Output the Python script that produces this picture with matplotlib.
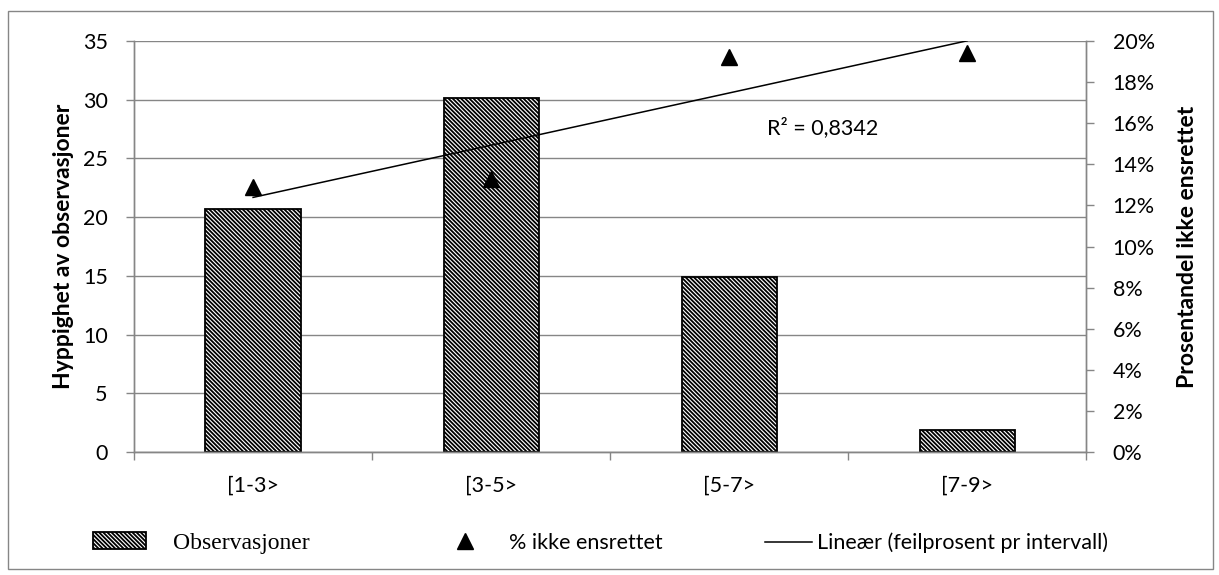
"""
Observasjoner per intervall med andel ikke ensrettet og lineær trend
"""

import numpy as np
import matplotlib
matplotlib.use("Agg")
import matplotlib.pyplot as plt
from matplotlib.patches import Rectangle, Patch
from matplotlib.lines import Line2D
from matplotlib.ticker import FuncFormatter, MultipleLocator

# Data
categories = ["[1-3>", "[3-5>", "[5-7>", "[7-9>"]
observasjoner = [20.7, 30.15, 14.9, 1.85]
pct_ikke_ensrettet = [12.9, 13.3, 19.2, 19.4]   # prosent
r2_text = "R\u00b2 = 0,8342"

left_label = "Hyppighet av observasjoner"
right_label = "Prosentandel ikke ensrettet"
legend_labels = ["Observasjoner", "% ikke ensrettet", "Lineær (feilprosent pr intervall)"]

# Style
FONT = "Lato"
TICK_FS = 15.5
LABEL_FS = 16.5
GRID_COLOR = "#868686"
plt.rcParams["font.family"] = [FONT, "DejaVu Sans"]
plt.rcParams["hatch.linewidth"] = 1.3
HATCH = "\\" * 8

fig = plt.figure(figsize=(12.19, 5.75), dpi=100)
ax = fig.add_axes([0.110, 0.2139, 0.781, 0.7148])
ax2 = ax.twinx()

x = np.arange(len(categories))

# Bars
ax.bar(x, observasjoner, width=0.4, facecolor="white", edgecolor="black",
       linewidth=1.3, hatch=HATCH, zorder=2)
ax.set_xlim(-0.5, len(categories) - 0.5)
ax.set_ylim(0, 35)
ax.yaxis.set_major_locator(MultipleLocator(5))
ax.set_axisbelow(True)
ax.grid(axis="y", color=GRID_COLOR, linewidth=1.0)
ax.set_xticks(x)
ax.set_xticklabels(categories)
ax.set_xticks(np.arange(len(categories) + 1) - 0.5, minor=True)
ax.tick_params(axis="x", which="major", length=0, pad=17, labelsize=TICK_FS)
ax.tick_params(axis="x", which="minor", length=6, width=1.0, color=GRID_COLOR)
ax.tick_params(axis="y", length=6, width=1.0, color=GRID_COLOR, pad=13,
               labelsize=TICK_FS)

# Percent series + linear trend
ax2.plot(x, pct_ikke_ensrettet, linestyle="none", marker="^", markersize=11,
         color="black", zorder=3)
coef = np.polyfit(x, pct_ikke_ensrettet, 1)
ax2.plot(x, np.polyval(coef, x), color="black", linewidth=1.1, zorder=3)
ax2.set_ylim(0, 20)
ax2.yaxis.set_major_locator(MultipleLocator(2))
ax2.yaxis.set_major_formatter(FuncFormatter(lambda v, p: f"{v:.0f}%"))
ax2.tick_params(axis="y", length=6, width=1.0, color=GRID_COLOR, pad=13,
                labelsize=TICK_FS)
ax2.text(0.723, 0.788, r2_text, transform=ax2.transAxes, ha="center",
         va="center", fontsize=TICK_FS)

for a in (ax, ax2):
    a.spines["top"].set_visible(False)
    for s in ("left", "right", "bottom"):
        a.spines[s].set_color(GRID_COLOR)
        a.spines[s].set_linewidth(1.0)

ax.set_ylabel(left_label, fontsize=LABEL_FS, fontweight="bold", va="center")
ax.yaxis.set_label_coords(-0.0746, 0.5)
ax2.set_ylabel(right_label, fontsize=LABEL_FS, fontweight="bold", va="center",
               rotation=90)
ax2.yaxis.set_label_coords(1.107, 0.5)

# Legend, three separate entries placed along the bottom
leg_y = 1 - 543 / 575
W = 1219
leg_kw = dict(frameon=False, loc="center left", borderpad=0, borderaxespad=0)
l1 = fig.legend([Patch(facecolor="white", edgecolor="black", hatch=HATCH, linewidth=1.3)],
                [legend_labels[0]], bbox_to_anchor=(93 / W, leg_y),
                prop={"family": "Liberation Serif", "size": 17},
                handlelength=2.25, handleheight=0.68, handletextpad=1.14, **leg_kw)
l2 = fig.legend([Line2D([], [], linestyle="none", marker="^", markersize=11, color="black")],
                [legend_labels[1]], bbox_to_anchor=(443 / W, leg_y),
                prop={"size": TICK_FS}, handlelength=2.0, handletextpad=1.07, **leg_kw)
l3 = fig.legend([Line2D([], [], color="black", linewidth=1.1)],
                [legend_labels[2]], bbox_to_anchor=(765 / W, leg_y),
                prop={"size": TICK_FS}, handlelength=2.19, handletextpad=0.23, **leg_kw)

# Outer chart frame
fig.patches.append(Rectangle((8 / W, 1 - 569 / 575), 1205 / W, 558 / 575,
                             transform=fig.transFigure, fill=False,
                             edgecolor=GRID_COLOR, linewidth=1.0))

fig.savefig("out.png", dpi=100)
